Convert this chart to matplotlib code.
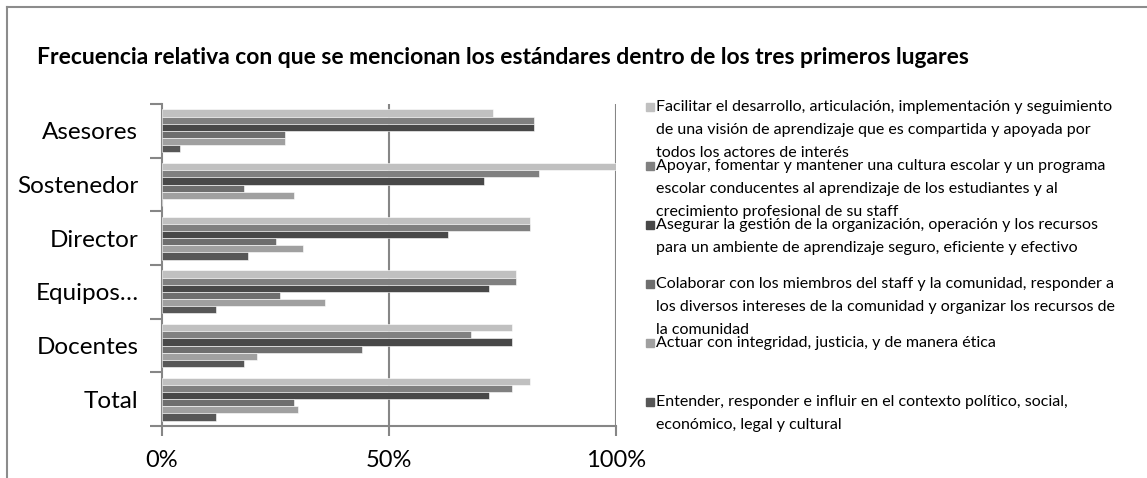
import matplotlib
matplotlib.use("Agg")
import matplotlib.pyplot as plt
from matplotlib.patches import Rectangle
from matplotlib.lines import Line2D
import numpy as np

plt.rcParams['font.family'] = ['Lato', 'DejaVu Sans']

# data
categories = ["Asesores", "Sostenedor", "Director", "Equipos…", "Docentes", "Total"]
series_labels = [
    "Facilitar el desarrollo, articulación, implementación y seguimiento\n"
    "de una visión de aprendizaje que es compartida y apoyada por\n"
    "todos los actores de interés",
    "Apoyar, fomentar y mantener una cultura escolar y un programa\n"
    "escolar conducentes al aprendizaje de los estudiantes y al\n"
    "crecimiento profesional de su staff",
    "Asegurar la gestión de la organización, operación y los recursos\n"
    "para un ambiente de aprendizaje seguro, eficiente y efectivo",
    "Colaborar con los miembros del staff y la comunidad, responder a\n"
    "los diversos intereses de la comunidad y organizar los recursos de\n"
    "la comunidad",
    "Actuar con integridad, justicia, y de manera ética",
    "Entender, responder e influir en el contexto político, social,\n"
    "económico, legal y cultural",
]
# percent per category (Asesores..Total), one list per standard
s1 = [73, 100, 81, 78, 77, 81]
s2 = [82, 83, 81, 78, 68, 77]
s3 = [82, 71, 63, 72, 77, 72]
s4 = [27, 18, 25, 26, 44, 29]
s5 = [27, 29, 31, 36, 21, 30]
s6 = [4, 0, 19, 12, 18, 12]
series = [s1, s2, s3, s4, s5, s6]
colors = ["#c0c0c0", "#808080", "#484848", "#6e6e6e", "#a0a0a0", "#575757"]
xticks = [0, 50, 100]
xticklabels = ["0%", "50%", "100%"]
title = "Frecuencia relativa con que se mencionan los estándares dentro de los tres primeros lugares"

W, H = 1147, 478
fig = plt.figure(figsize=(W / 100, H / 100), dpi=100)

# outer frame (top and left edges visible)
fig.add_artist(Line2D([6.5 / W, 1], [1 - 6.5 / H, 1 - 6.5 / H], color="#8c8c8c", lw=1.5))
fig.add_artist(Line2D([6.5 / W, 6.5 / W], [0, 1 - 6.5 / H], color="#8c8c8c", lw=1.5))

fig.text(37 / W, 1 - 58 / H, title, fontsize=16.5, fontweight="bold", va="center", ha="left")

left, right, top, bottom = 162, 616, 104, 426
ax = fig.add_axes([left / W, 1 - bottom / H, (right - left) / W, (bottom - top) / H])

n = len(series)
bh = 0.8 / n
y = np.arange(len(categories))
for j, (vals, c) in enumerate(zip(series, colors)):
    ax.barh(y - 0.4 + bh * (j + 0.5), vals, height=bh, color=c, edgecolor="white", linewidth=0.4, zorder=3)

ax.set_xlim(0, 100)
ax.set_ylim(len(categories) - 0.5, -0.5)
ax.set_xticks(xticks)
ax.set_xticklabels(xticklabels, fontsize=17)
ax.set_yticks(np.arange(len(categories) + 1) - 0.5)
ax.set_yticklabels([])
ax.set_yticks(y, minor=True)
ax.set_yticklabels(categories, minor=True, fontsize=17.5)
ax.tick_params(axis="y", which="minor", length=0, pad=17)
ax.tick_params(axis="y", which="major", length=9, width=1.5, color="#868686", direction="out")
ax.tick_params(axis="x", length=7, width=1.5, color="#868686", direction="out", pad=10)
for xv in xticks[1:]:
    ax.axvline(xv, color="#868686", lw=1.5, zorder=2)
for s in ["top", "right"]:
    ax.spines[s].set_visible(False)
for s in ["left", "bottom"]:
    ax.spines[s].set_color("#868686")
    ax.spines[s].set_linewidth(1.5)

# legend drawn by hand
for j, (lab, c) in enumerate(zip(series_labels, colors)):
    yc = 107 + 59 * j
    fig.add_artist(Rectangle((646 / W, 1 - (yc + 4) / H), 8 / W, 8 / H, color=c))
    fig.text(656 / W, 1 - (yc - 7) / H, lab, fontsize=11.5, va="top", ha="left", linespacing=1.8)

fig.savefig("out.png", dpi=100)
